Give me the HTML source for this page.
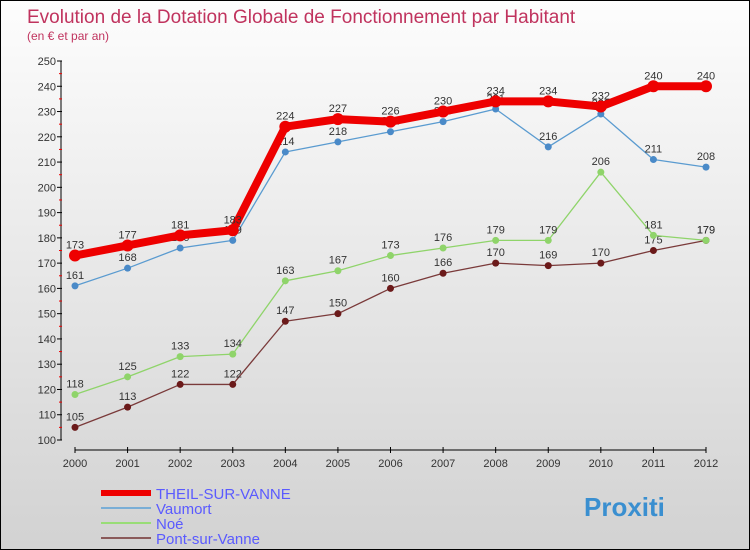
<!DOCTYPE html>
<html><head><meta charset="utf-8"><style>
body{margin:0}
#c{width:750px;height:550px;position:relative;box-sizing:border-box;border:1px solid #000;background:linear-gradient(#fdfdfd,#d2d2d2);font-family:"Liberation Sans",sans-serif;overflow:hidden}
</style></head><body>
<div id="c">
<svg id="s" width="748" height="548">
<text x="26" y="22" font-size="19" fill="#c0335e">Evolution de la Dotation Globale de Fonctionnement par Habitant</text>
<text x="26" y="39" font-size="12" fill="#c0335e">(en € et par an)</text>
</svg>
</div>
<script>
const years=[2000,2001,2002,2003,2004,2005,2006,2007,2008,2009,2010,2011,2012];
const yTicks=[100,110,120,130,140,150,160,170,180,190,200,210,220,230,240,250];
const theil=[173,177,181,183,224,227,226,230,234,234,232,240,240];
const vaumort=[161,168,176,179,214,218,222,226,231,216,229,211,208];
const noe=[118,125,133,134,163,167,173,176,179,179,206,181,179];
const pont=[105,113,122,122,147,150,160,166,170,169,170,175,179];
const s=document.getElementById('s');const NS='http://www.w3.org/2000/svg';
function X(i){return 74+i*(705-74)/12;}
function Y(v){return 439-(v-100)*(379/150);}
function mk(t,a,p){const e=document.createElementNS(NS,t);for(const k in a)e.setAttribute(k,a[k]);(p||s).appendChild(e);return e;}
let ax=mk('line',{x1:60,y1:Y(250),x2:60,y2:Y(100),stroke:'#000'});


let bx=mk('line',{x1:X(0),y1:449,x2:X(12),y2:449,stroke:'#000'});


yTicks.forEach((v,i)=>{mk('line',{x1:56,y1:Y(v),x2:61,y2:Y(v),stroke:'#000'});
if(i<yTicks.length-1)mk('line',{x1:58,y1:Y(v+5),x2:61,y2:Y(v+5),stroke:'#e00'});
const t=mk('text',{x:55,y:Y(v)+4,'font-size':11,'text-anchor':'end',fill:'#333'});t.textContent=v;

});
years.forEach((y,i)=>{mk('line',{x1:X(i),y1:446,x2:X(i),y2:452,stroke:'#000'});
const t=mk('text',{x:X(i),y:466,'font-size':11,'text-anchor':'middle',fill:'#333'});t.textContent=y;

});
function series(d,col,w,r,name,dot){const g=mk('g',{});


mk('polyline',{points:d.map((v,i)=>X(i)+','+Y(v)).join(' '),fill:'none',stroke:col,'stroke-width':w,'stroke-linejoin':'round'},g);
d.forEach((v,i)=>{const c=mk('circle',{cx:X(i),cy:Y(v),r:r,fill:dot},g);


const t=mk('text',{x:X(i),y:Y(v)-7,'font-size':11,'text-anchor':'middle',fill:'#333'},g);t.textContent=v;});}
series(pont,'#7a3a3a',1.3,3.5,'pont','#6b1a1a');
series(noe,'#8fd46a',1.3,3.5,'noe','#8fd46a');
series(vaumort,'#5a9bd0',1.3,3.5,'vaumort','#4a8ac8');
series(theil,'#ee0000',8,6,'theil','#ee0000');
const leg=[['THEIL-SUR-VANNE','#ee0000',6],['Vaumort','#7aaed6',2],['Noé','#99dd77',2],['Pont-sur-Vanne','#8a5a5a',2]];
leg.forEach((l,i)=>{const y=492+i*15;const g=mk('g',{});


mk('line',{x1:100,y1:y,x2:150,y2:y,stroke:l[1],'stroke-width':l[2]},g);
const t=mk('text',{x:155,y:y+6,'font-size':15,fill:'#5a5aff'},g);t.textContent=l[0];});
const p=mk('text',{x:583,y:515,'font-size':26,'font-weight':'bold',fill:'#3a8fd0'});p.textContent='Proxiti';


</script>
</body></html>
